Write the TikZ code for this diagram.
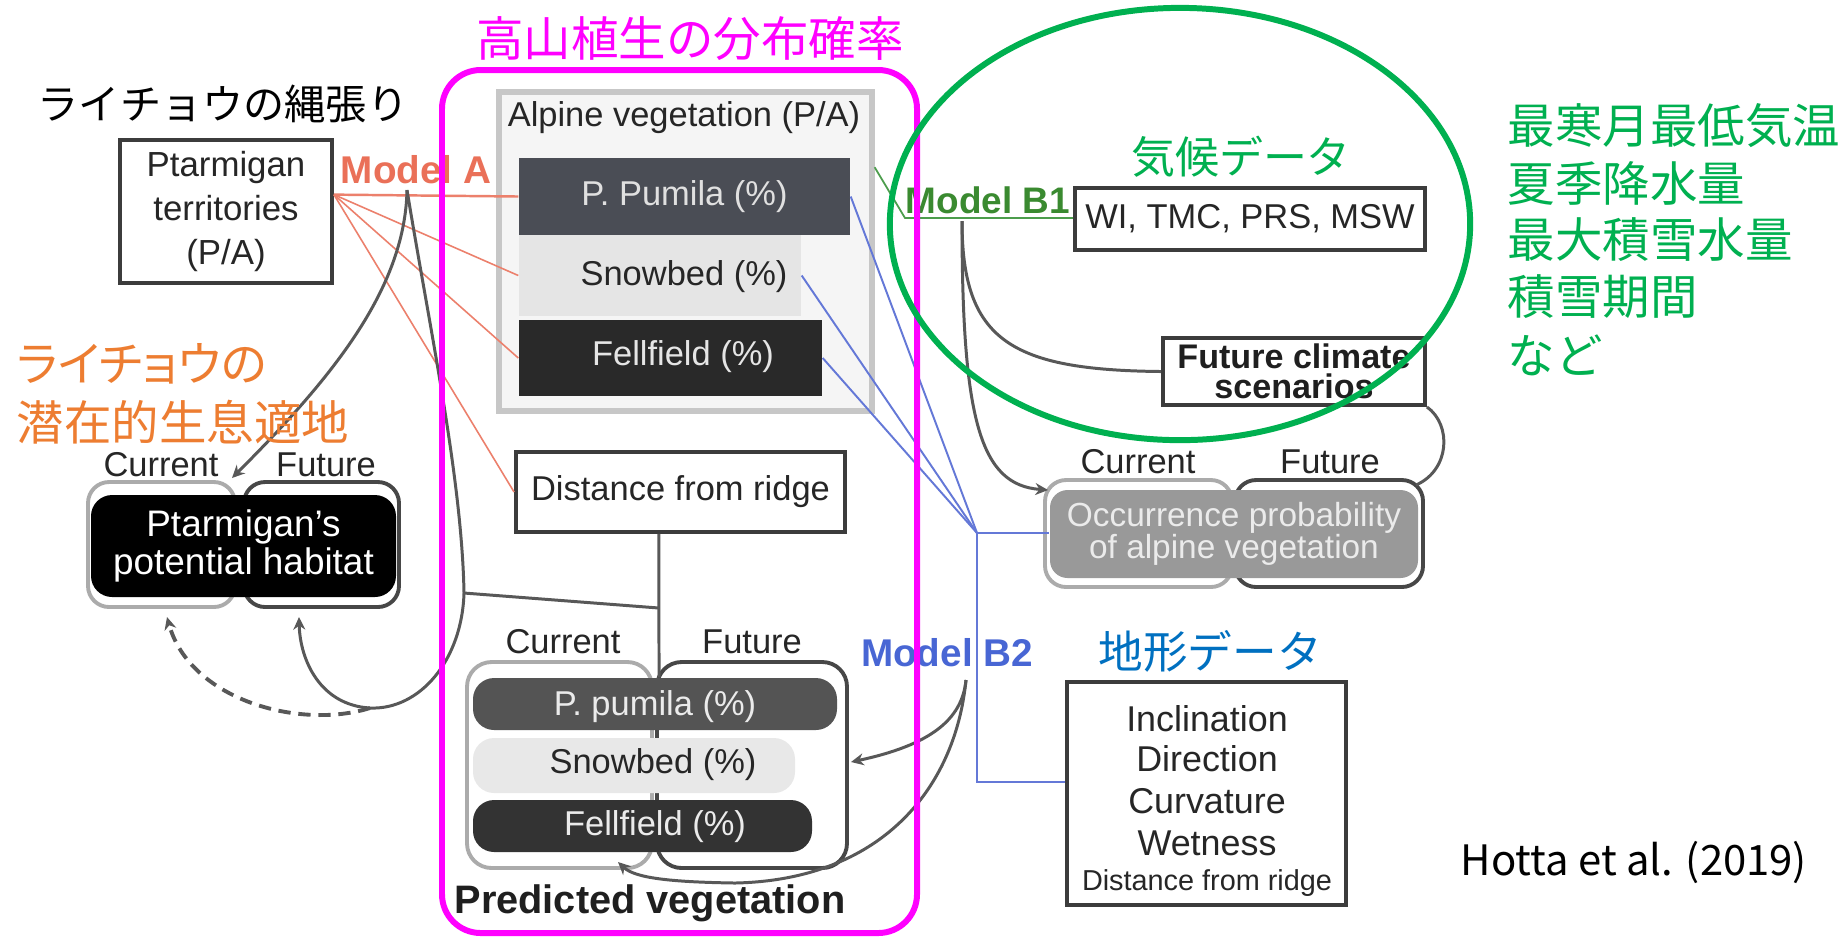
\documentclass[tikz,border=0pt]{standalone}
\usepackage{fontspec}
\setmainfont{Liberation Sans}
\newfontfamily\jp{Noto Sans CJK JP}
\newfontfamily\jpp[RawFeature=+palt]{Noto Sans CJK JP}
\usetikzlibrary{arrows.meta,calc}
\definecolor{mag}{RGB}{255,0,255}
\definecolor{grn}{RGB}{0,176,80}
\definecolor{org}{RGB}{237,125,49}
\definecolor{blu}{RGB}{0,112,192}
\definecolor{modA}{RGB}{234,112,88}
\definecolor{redln}{RGB}{236,128,108}
\definecolor{modBone}{RGB}{58,138,48}
\definecolor{modBtwo}{RGB}{72,102,212}
\definecolor{bluln}{RGB}{100,120,215}
\definecolor{gln}{RGB}{88,88,88}
\definecolor{bord}{RGB}{60,60,60}
\definecolor{pumila}{RGB}{74,77,85}
\newcommand{\fsz}[2]{\fontsize{#1pt}{#2pt}\selectfont}
\tikzset{
  sized/.style 2 args={minimum width=#1*0.01cm, minimum height=#2*0.01cm, inner sep=0pt},
  figtxt/.style={font=\fsz{9.8}{11}, inner sep=0pt, text=black!85},
  inctxt/.style={font=\fsz{10.2}{12}, inner sep=0pt, text=black!85, anchor=base},
  boxd/.style={draw=bord, line width=1.1pt, fill=white},
  conn/.style={draw=gln, line width=0.85pt},
  arr/.style={conn, -{Stealth[length=3.6pt,width=3.4pt]}},
  redl/.style={draw=redln, line width=0.45pt},
  blul/.style={draw=bluln, line width=0.55pt},
  curout/.style={draw=black!33, line width=1.1pt, rounded corners=6pt},
  futout/.style={draw=black!72, line width=1.1pt, rounded corners=6pt},
  jtxt/.style={inner sep=0pt}
}
\begin{document}
\begin{tikzpicture}[x=0.01cm,y=-0.01cm]
\path[use as bounding box, fill=white] (0,0) rectangle (1843,938);

% ---------- Ptarmigan territories ----------
\node[boxd, sized={212}{143}, font=\fsz{9.9}{12.5}, align=center, text=black!85] (pt) at (226,211.5) {Ptarmigan\\territories\\(P/A)};
\node[font=\bfseries\fsz{11}{12}, text=modA, inner sep=0pt] (mA) at (416,170) {Model A};
\coordinate (ptA) at ($(pt.north east)!0.385!(pt.south east)$);
\coordinate (mAj) at (407,190);

% ---------- Alpine vegetation ----------
\node[draw=black!22, fill=black!4, line width=1.5pt, sized={373}{319}] (alp) at (685.5,251.5) {};
\node[figtxt] (alpt) at (684,118) {Alpine vegetation (P/A)};
\node[fill=pumila, sized={331}{77}, figtxt, text=white!88!black] (pp) at (684.5,196.5) {P. Pumila (\%)};
\node[fill=black!10, sized={282}{81}] (sb) at (660,275.5) {};
\node[figtxt] (sbt) at (684,277) {Snowbed (\%)};
\node[fill=black!84, sized={303}{76}] (ff) at (670.5,358) {};
\node[figtxt, text=white!90!black] (fft) at (683,357) {Fellfield (\%)};

% ---------- Distance from ridge ----------
\node[boxd, sized={329}{80}, figtxt] (dr) at (680.5,492) {Distance from ridge};

% red lines (Model A)
\draw[redl, line width=0.7pt] (ptA) -- (pp.west);
\draw[redl] (ptA) -- (sb.west);
\draw[redl] (ptA) -- (ff.west);
\draw[redl] (ptA) -- (dr.west);

% ---------- Ptarmigan's potential habitat ----------
\node[curout, sized={147}{125}] (phc) at (161.5,544.5) {};
\node[futout, sized={155}{125}] (phf) at (321.5,544.5) {};
\node[fill=black, rounded corners=6pt, sized={305}{102}, text=white, font=\fsz{10.5}{10.9}, align=center] (ph) at (243.5,546) {Ptarmigan's\\potential habitat};
\node[figtxt] (phcl) at (161,465) {Current};
\node[figtxt] (phfl) at (326,465) {Future};
\coordinate (phCa) at (232,478);
\coordinate (phFa) at (299,617);
\coordinate (phCd) at (167,617);

% ---------- Predicted vegetation ----------
\node[curout, rounded corners=7pt, sized={185}{206}] (pvc) at (559.5,765) {};
\node[futout, rounded corners=7pt, sized={190}{206}] (pvf) at (752,765) {};
\node[fill=black!67, rounded corners=6pt, sized={364}{52}] (pvp) at (655,704) {};
\node[figtxt, text=white!92!black] (pvpt) at (655,707) {P. pumila (\%)};
\node[fill=black!9, rounded corners=6pt, sized={322}{55}] (pvs) at (634,765.5) {};
\node[figtxt] (pvst) at (653,765) {Snowbed (\%)};
\node[fill=black!80, rounded corners=6pt, sized={339}{52}] (pvff) at (642.5,826) {};
\node[figtxt, text=white!92!black] (pvfft) at (655,827) {Fellfield (\%)};
\node[figtxt] (pvcl) at (563,642) {Current};
\node[figtxt] (pvfl) at (752,642) {Future};
\node[font=\bfseries\fsz{11.3}{12}, inner sep=0pt, text=black!88] (pvt) at (650,903) {Predicted vegetation};

% gray connectors (Model A)
\coordinate (jn) at (464,593);
\coordinate (ub) at (370,708);
\coordinate (drb) at ($(dr.south west)!0.435!(dr.south east)$);
\coordinate (pvtop) at ($(pvp.north west)!0.511!(pvp.north east)$);
\coordinate (jv) at (659,608);
\draw[arr] (mAj) .. controls (405,290) and (330,380) .. (phCa);
\draw[conn] (mAj) .. controls (430,330) and (462,480) .. (jn);
\draw[conn] (jn) -- (jv);
\draw[conn] (drb) -- (pvtop);
\draw[arr] (jn) .. controls (462,660) and (420,710) .. (ub) .. controls (320,705) and (300,660) .. (phFa);
\draw[arr, line width=1.1pt, dash pattern=on 3.5pt off 2.2pt] (ub) .. controls (300,730) and (190,700) .. (phCd);

% ---------- Climate side ----------
\node[font=\bfseries\fsz{10.5}{12}, text=modBone, inner sep=1pt] (mB1) at (988,200) {Model B1};
\coordinate (gA) at ($(alp.north east)!0.24!(alp.south east)$);
\coordinate (gB) at (905,218);
\draw[draw=green!45!black!70, line width=0.5pt] (gA) -- (gB) -- (gB -| mB1.east);
\coordinate (b1j) at (962,221);
\node[boxd, sized={350}{62}, figtxt] (wi) at (1250,219) {WI, TMC, PRS, MSW};
\node[boxd, sized={262}{67}, font=\bfseries\fsz{9.7}{8.4}, align=center, text=black!88] (fcs) at (1294,371.5) {Future climate\\scenarios};

% Occurrence probability
\node[curout, sized={187}{107}] (occ) at (1138.5,533.5) {};
\node[futout, sized={188}{107}] (ocf) at (1329,533.5) {};
\node[fill=black!40, rounded corners=5pt, sized={368}{88}, text=white!92!black, font=\fsz{9.5}{9.1}, align=center] (oc) at (1234,534) {Occurrence probability\\of alpine vegetation};
\node[figtxt] (occl) at (1138,462) {Current};
\node[figtxt] (ocfl) at (1330,462) {Future};
\coordinate (ocCa) at (1048,490);
\coordinate (ocFa) at (1416,485);
\draw[conn] (b1j) .. controls (962,340) and (1010,370) .. (fcs.west);
\draw[arr] (b1j) .. controls (962,420) and (980,485) .. (ocCa);
\draw[conn] (fcs.south east) .. controls (1452,425) and (1450,470) .. (ocFa);

% Blue lines (Model B2)
\node[boxd, sized={279}{223}] (inc) at (1206.5,793.5) {};
\node[inctxt] (i1) at (1207,731) {Inclination};
\node[inctxt] (i2) at (1207,771) {Direction};
\node[inctxt] (i3) at (1207,813) {Curvature};
\node[inctxt] (i4) at (1207,855) {Wetness};
\node[inctxt, font=\fsz{8.2}{9}] (i5) at (1207,890) {Distance from ridge};
\coordinate (bj) at (977,533);
\coordinate (incA) at ($(inc.north west)!0.45!(inc.south west)$);
\draw[blul] (pp.east) -- (bj);
\draw[blul] (sb.east) -- (bj);
\draw[blul] (ff.east) -- (bj);
\draw[blul] (bj) -- (bj -| oc.west);
\draw[blul] (bj) |- (incA);

\node[font=\bfseries\fsz{11}{12}, text=modBtwo, inner sep=0pt] (mB2) at (947,653) {Model B2};
\coordinate (b2j) at (966,680);
\coordinate (pvFa) at (851,762);
\coordinate (b2m) at (735,883);
\coordinate (pvCa) at (618,862);
\draw[arr] (b2j) .. controls (962,720) and (930,745) .. (pvFa);
\draw[arr] (b2j) .. controls (955,790) and (880,880) .. (b2m) .. controls (670,882) and (635,878) .. (pvCa);

% ---------- Annotation overlay ----------
\node[draw=mag, line width=1.7pt, rounded corners=11pt, sized={475}{863}] (mbox) at (679.5,501.5) {};
\coordinate (ec) at (1180,224);
\draw[grn, line width=1.7pt] (ec) ellipse [x radius=2.9cm, y radius=2.16cm];

\node[jtxt, font=\jp\fsz{11.7}{14}] (t1) at (223,104) {ライチョウの縄張り};
\node[jtxt, font=\jp\fsz{13.5}{16}, text=mag] (t2) at (690,39) {高山植生の分布確率};
\node[jtxt, font=\jpp\fsz{13.5}{16}, text=org, anchor=west] (t3) at (16,364) {ライチョウの};
\node[jtxt, font=\jp\fsz{13.5}{16}, text=org, anchor=west] (t4) at (16,422) {潜在的生息適地};
\node[jtxt, font=\jp\fsz{12.5}{15}, text=grn] (t5) at (1241,157) {気候データ};
\node[jtxt, font=\jp\fsz{13.5}{16}, text=grn, anchor=west] (g1) at (1507,126) {最寒月最低気温};
\node[jtxt, font=\jp\fsz{13.5}{16}, text=grn, anchor=west] (g2) at (1507,183) {夏季降水量};
\node[jtxt, font=\jp\fsz{13.5}{16}, text=grn, anchor=west] (g3) at (1507,240) {最大積雪水量};
\node[jtxt, font=\jp\fsz{13.5}{16}, text=grn, anchor=west] (g4) at (1507,297) {積雪期間};
\node[jtxt, font=\jp\fsz{13.5}{16}, text=grn, anchor=west] (g5) at (1507,355) {など};
\node[jtxt, font=\jp\fsz{12.7}{15}, text=blu] (t6) at (1210,651) {地形データ};
\node[jtxt, font=\jp\fsz{11.9}{14}] (hot) at (1634,862) {Hotta et al. (2019)};
\end{tikzpicture}
\end{document}
